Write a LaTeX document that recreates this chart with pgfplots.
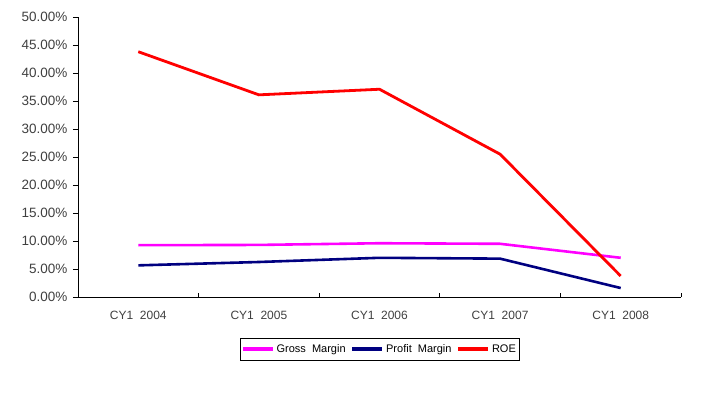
\documentclass[border=0pt]{standalone}
\usepackage{fontspec}
\setmainfont{Liberation Sans}
\usepackage{pgfplots}
\pgfplotsset{compat=1.18}
\definecolor{gm}{RGB}{255,0,255}
\definecolor{pm}{RGB}{0,0,128}
\definecolor{roe}{RGB}{255,0,0}
\definecolor{lbl}{RGB}{64,64,64}
\begin{document}
\begin{tikzpicture}
\useasboundingbox (0,0) rectangle (725bp,400bp);
\begin{axis}[
  at={(78bp,103bp)}, anchor=south west,
  scale only axis, width=603bp, height=280bp,
  xmin=-0.5, xmax=4.5, ymin=0, ymax=50,
  axis lines*=left,
  axis line style={black, line width=0.8pt},
  xtick={0,1,2,3,4},
  xticklabels={CY1\ \ 2004,CY1\ \ 2005,CY1\ \ 2006,CY1\ \ 2007,CY1\ \ 2008},
  minor xtick={0.5,1.5,2.5,3.5,4.5},
  x tick style={draw=none},
  minor x tick style={draw=black, line width=0.8pt},
  minor tick length=4bp,
  ytick={0,5,...,50},
  y tick style={black, line width=0.8pt},
  major tick length=5bp,
  tick align=outside,
  minor x tick style={/pgfplots/tick align=inside},
  yticklabel={\pgfmathprintnumber[fixed,fixed zerofill,precision=2]{\tick}\%},
  /pgf/number format/assume math mode=true,
  yticklabel style={font=\fontsize{13.5bp}{15bp}\selectfont, text=lbl, xshift=-2bp},
  xticklabel style={font=\fontsize{12bp}{14bp}\selectfont, text=lbl, yshift=-6bp},
  legend columns=3,
  legend style={at={(0.5,-0.186)}, anchor=center, draw=black, line width=0.6pt,
    font=\fontsize{11bp}{13bp}\selectfont, inner xsep=1bp, inner ysep=4bp,
    /tikz/every even column/.append style={column sep=3bp}},
  legend image code/.code={\draw[#1, line width=3.5bp] (0cm,0cm) -- (30bp,0cm);},
]
\addplot[gm, line width=2.6bp] coordinates {(0,9.25) (1,9.3) (2,9.6) (3,9.5) (4,7.0)};
\addlegendentry{Gross\ \ Margin}
\addplot[pm, line width=2.6bp] coordinates {(0,5.65) (1,6.25) (2,7.0) (3,6.85) (4,1.6)};
\addlegendentry{Profit\ \ Margin}
\addplot[roe, line width=2.8bp] coordinates {(0,43.8) (1,36.1) (2,37.1) (3,25.5) (4,3.75)};
\addlegendentry{ROE}
\end{axis}
\end{tikzpicture}
\end{document}
